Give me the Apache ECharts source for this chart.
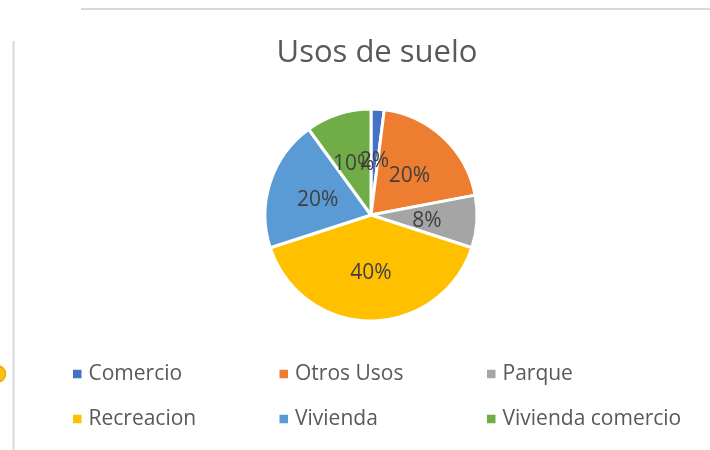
<!DOCTYPE html>
<html>
<head>
<meta charset="utf-8">
<script src="https://cdn.jsdelivr.net/npm/echarts@6/dist/echarts.min.js"></script>
<style>
  html, body { margin: 0; padding: 0; background: #ffffff; }
  #chart { width: 710px; height: 450px; }
</style>
</head>
<body>
<div id="chart"></div>
<script>
// Land use shares (percent)
const categories = ['Comercio', 'Otros Usos', 'Parque', 'Recreacion', 'Vivienda', 'Vivienda comercio'];
const shares = [2, 20, 8, 40, 20, 10];
const sliceColors = ['#4472C4', '#ED7D31', '#A5A5A5', '#FFC000', '#5B9BD5', '#70AD47'];
const chartTitle = 'Usos de suelo';

const FONT = '"Open Sans", "Noto Sans", sans-serif';
const TEXT = '#595959';

// Legend laid out as a 3 x 2 grid
const legendCols = [71, 277.5, 485];
const legendRows = [362, 407];
const legends = categories.map((name, i) => ({
  data: [name],
  left: legendCols[i % 3],
  top: legendRows[Math.floor(i / 3)],
  icon: 'rect',
  itemWidth: 10.5,
  itemHeight: 10.5,
  itemGap: 0,
  padding: 0,
  selectedMode: false,
  textStyle: { color: TEXT, fontFamily: FONT, fontSize: 21, lineHeight: 24, padding: [0, 0, 0, 1] }
}));

const chart = echarts.init(document.getElementById('chart'), null, { renderer: 'canvas' });
chart.setOption({
  animation: false,
  backgroundColor: '#ffffff',
  color: sliceColors,
  title: {
    text: chartTitle,
    left: 372,
    top: 33,
    textAlign: 'center',
    textStyle: { color: TEXT, fontFamily: FONT, fontSize: 31, fontWeight: 'normal' }
  },
  legend: legends,
  graphic: [
    { type: 'line', shape: { x1: 81, y1: 9, x2: 710, y2: 9 }, style: { stroke: '#d9d9d9', lineWidth: 2 } },
    { type: 'line', shape: { x1: 13.5, y1: 41, x2: 13.5, y2: 450 }, style: { stroke: '#d9d9d9', lineWidth: 2 } },
    { type: 'circle', shape: { cx: -2.5, cy: 374, r: 8 }, style: { fill: '#FDC010', stroke: '#F0A800', lineWidth: 1.5 } }
  ],
  series: [{
    type: 'pie',
    center: [371, 215],
    radius: 106,
    startAngle: 90,
    clockwise: true,
    avoidLabelOverlap: false,
    labelLayout: { hideOverlap: false },
    data: categories.map((name, i) => ({ name, value: shares[i] })),
    itemStyle: { borderColor: '#ffffff', borderWidth: 3 },
    label: {
      show: true,
      position: 'inside',
      formatter: '{c}%',
      color: '#404040',
      fontFamily: FONT,
      fontSize: 21,
      offset: [0, 2]
    },
    labelLine: { show: false },
    emphasis: { disabled: true }
  }]
});
</script>
</body>
</html>
